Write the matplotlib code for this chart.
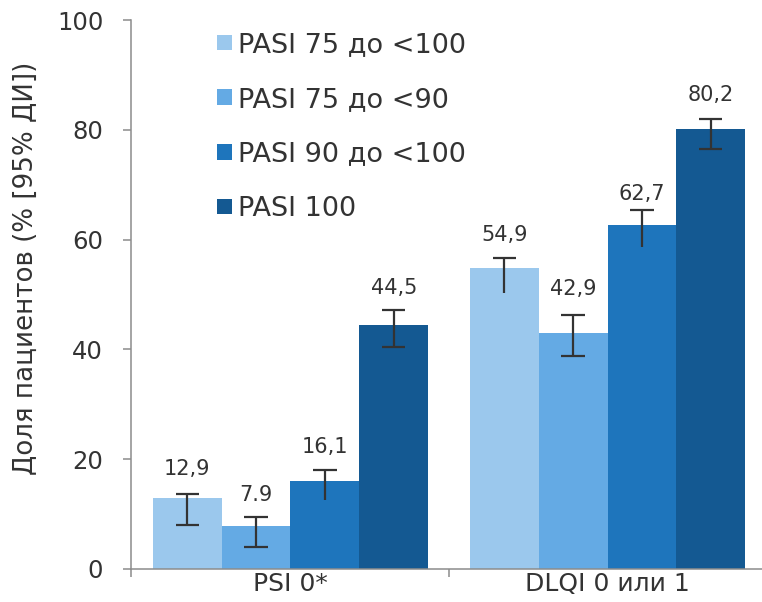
import matplotlib
matplotlib.use("Agg")
import matplotlib.pyplot as plt
import numpy as np

categories = ["PSI 0*", "DLQI 0 или 1"]
series_names = ["PASI 75 до <100", "PASI 75 до <90", "PASI 90 до <100", "PASI 100"]

s1_values = [12.9, 54.9]
s2_values = [7.9, 42.9]
s3_values = [16.1, 62.7]
s4_values = [44.5, 80.2]

s1_ci_low = [8.0, 50.3]
s2_ci_low = [4.0, 38.8]
s3_ci_low = [12.5, 58.7]
s4_ci_low = [40.5, 76.5]

s1_ci_high = [13.7, 56.7]
s2_ci_high = [9.5, 46.2]
s3_ci_high = [18.0, 65.4]
s4_ci_high = [47.1, 82.0]

s1_labels = ["12,9", "54,9"]
s2_labels = ["7.9", "42,9"]
s3_labels = ["16,1", "62,7"]
s4_labels = ["44,5", "80,2"]

y_ticks = [0, 20, 40, 60, 80, 100]
y_label = "Доля пациентов (% [95% ДИ])"

# styles
colors = ["#9BC8ED", "#64AAE4", "#1E75BC", "#145992"]
lower_caps = [[True, False], [True, True], [False, False], [True, True]]
label_offsets_px = [[25, 23], [22, 26], [23, 16], [22, 24]]

values = [s1_values, s2_values, s3_values, s4_values]
lows = [s1_ci_low, s2_ci_low, s3_ci_low, s4_ci_low]
highs = [s1_ci_high, s2_ci_high, s3_ci_high, s4_ci_high]
labels = [s1_labels, s2_labels, s3_labels, s4_labels]

plt.rcParams['font.family'] = ['DejaVu Sans']
text_color = "#333333"
axis_color = "#8C8C8C"

fig = plt.figure(figsize=(7.62, 6.02), dpi=100)
ax = fig.add_axes([131 / 762, 33 / 602, 631 / 762, 549 / 602])

x = np.arange(len(categories))
bw = 0.217
px2pt = 0.72
for i in range(4):
    xs = x + (i - 1.5) * bw
    ax.bar(xs, values[i], width=bw, color=colors[i], label=series_names[i], zorder=2)
    cap_half = bw * 0.17
    for j in range(len(categories)):
        ax.vlines(xs[j], lows[i][j], highs[i][j], color=text_color, lw=1.6, zorder=3)
        ax.hlines(highs[i][j], xs[j] - cap_half, xs[j] + cap_half, color=text_color, lw=1.6, zorder=3)
        if lower_caps[i][j]:
            ax.hlines(lows[i][j], xs[j] - cap_half, xs[j] + cap_half, color=text_color, lw=1.6, zorder=3)
        ax.annotate(labels[i][j], (xs[j], highs[i][j]), xytext=(0, label_offsets_px[i][j] * px2pt),
                    textcoords="offset points", ha="center", va="center",
                    fontsize=15, color=text_color)

ax.set_xlim(-0.503, 1.487)
ax.set_ylim(0, 100)
ax.set_yticks(y_ticks)
ax.set_xticks(x)
ax.set_xticklabels(categories)
ax.set_xticks([-0.503, 0.5], minor=True)
ax.tick_params(axis="x", which="major", length=0, pad=2.5, labelsize=18, labelcolor=text_color)
ax.tick_params(axis="x", which="minor", length=5.5, width=1.1, color=axis_color, direction="out")
ax.tick_params(axis="y", length=6, width=1.1, color=axis_color, pad=14, labelsize=17.5, labelcolor=text_color)

for s in ["top", "right"]:
    ax.spines[s].set_visible(False)
for s in ["left", "bottom"]:
    ax.spines[s].set_color(axis_color)
    ax.spines[s].set_linewidth(1.1)

fig.text(26 / 762, 1 - 268.5 / 602, y_label, rotation=90, ha="center", va="center",
         fontsize=18.8, color=text_color)

leg = ax.legend(loc="upper left", bbox_to_anchor=(217 / 762, 1 - 32 / 602),
                bbox_transform=fig.transFigure, frameon=False,
                prop={"size": 19.5},
                handlelength=0.55, handleheight=0.52, handletextpad=0.22,
                labelspacing=1.06, borderpad=0, borderaxespad=0)
for t in leg.get_texts():
    t.set_color(text_color)

fig.savefig("out.png", dpi=100)
